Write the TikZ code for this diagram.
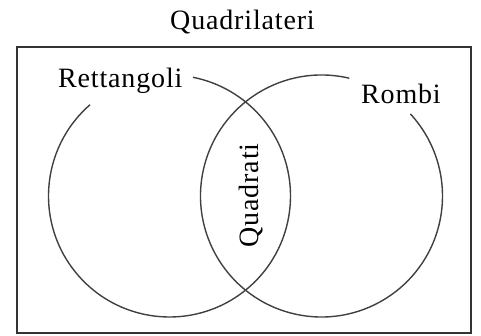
\documentclass[tikz,border=0pt]{standalone}
\usepackage{fontspec}
\setmainfont{Liberation Serif}[LetterSpace=3]
\begin{document}
\begin{tikzpicture}[x=1pt,y=1pt,
  lbl/.style={inner sep=0pt,font=\fontsize{28}{30}\selectfont},
  ring/.style={line width=1.4pt,draw=black!75}]
\useasboundingbox (0,0) rectangle (481,336);
\draw[line width=1.6pt,draw=black!80] (17,289) rectangle (471,3);
\coordinate (c1) at (169.5,140);
\coordinate (c2) at (321.5,140);
\draw[ring] ([shift={(131:121)}]c1) arc[start angle=131,end angle=438.8,radius=121];
\draw[ring] ([shift={(76.7:121)}]c2) arc[start angle=76.7,end angle=402.7,radius=121];
\node[lbl,anchor=base] (t) at (242.5,306.5) {Quadrilateri};
\node[lbl,anchor=base west] (r) at (58,248.3) {Rettangoli};
\node[lbl,anchor=base west] (ro) at (361,232) {Rombi};
\node[lbl,anchor=base,rotate=90] (q) at (258,140.5) {Quadrati};
\end{tikzpicture}
\end{document}
